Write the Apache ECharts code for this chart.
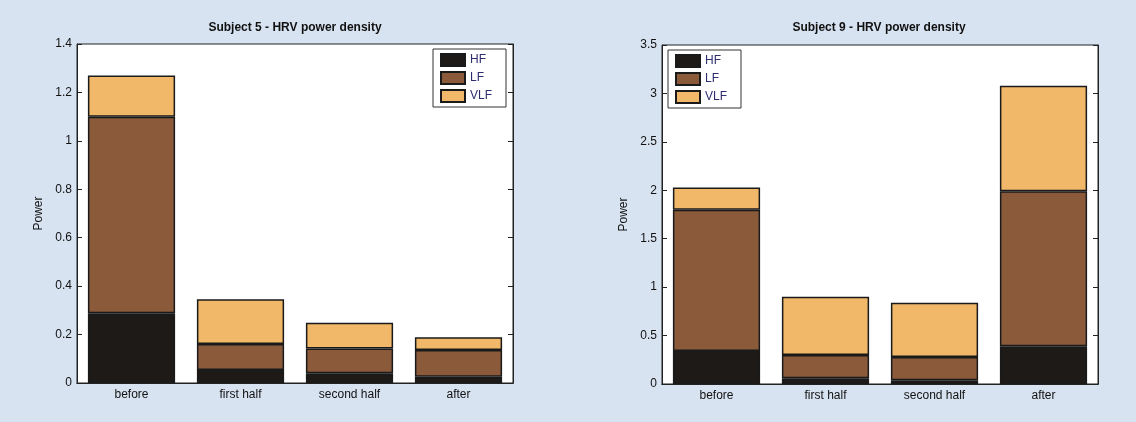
<!DOCTYPE html>
<html>
<head>
<meta charset="utf-8">
<script src="https://cdn.jsdelivr.net/npm/echarts@6/dist/echarts.min.js"></script>
<style>
  html, body { margin: 0; padding: 0; background: #d8e3f1; }
  #chart { width: 1136px; height: 422px; }
</style>
</head>
<body>
<div id="chart"></div>
<script>
const categories = ["before", "first half", "second half", "after"];
const bands = ["HF", "LF", "VLF"];

// Subject 5
const s5HF = [0.288, 0.054, 0.04, 0.026];
const s5LF = [0.812, 0.107, 0.102, 0.11];
const s5VLF = [0.17, 0.185, 0.107, 0.053];

// Subject 9
const s9HF = [0.34, 0.06, 0.04, 0.39];
const s9LF = [1.46, 0.24, 0.24, 1.6];
const s9VLF = [0.23, 0.6, 0.56, 1.09];

const bandColors = { HF: "#1d1a18", LF: "#8b5a3b", VLF: "#f0b868" };

const FONT = "Liberation Sans, Arial, sans-serif";
const TEXT = "#111";

const chart = echarts.init(document.getElementById("chart"));

const plotBox = (left, top) => ({
  left: left,
  top: top,
  width: 436,
  height: 339,
  show: true,
  backgroundColor: "#ffffff",
  borderColor: "#222",
  borderWidth: 1,
});

const bottomX = (grid) => ({
  type: "category",
  gridIndex: grid,
  data: categories,
  axisLine: { lineStyle: { color: "#222" } },
  axisTick: { inside: true, alignWithLabel: true, length: 5, lineStyle: { color: "#222" } },
  axisLabel: { color: TEXT, fontSize: 12, fontFamily: FONT, margin: 6 },
});

const topX = (grid) => ({
  type: "category",
  gridIndex: grid,
  position: "top",
  data: categories,
  axisLine: { lineStyle: { color: "#222" } },
  axisTick: { inside: true, alignWithLabel: true, length: 5, lineStyle: { color: "#222" } },
  axisLabel: { show: false },
});

const leftY = (grid, max, step) => ({
  type: "value",
  gridIndex: grid,
  min: 0,
  max: max,
  interval: step,
  name: "Power",
  nameLocation: "middle",
  nameGap: 32,
  nameTextStyle: { color: TEXT, fontSize: 12, fontFamily: FONT },
  splitLine: { show: false },
  axisLine: { show: true, lineStyle: { color: "#222" } },
  axisTick: { show: true, inside: true, length: 5, lineStyle: { color: "#222" } },
  axisLabel: { color: TEXT, fontSize: 12, fontFamily: FONT, margin: 5 },
});

const rightY = (grid, max, step) => ({
  type: "value",
  gridIndex: grid,
  position: "right",
  min: 0,
  max: max,
  interval: step,
  splitLine: { show: false },
  axisLine: { show: true, lineStyle: { color: "#222" } },
  axisTick: { show: true, inside: true, length: 5, lineStyle: { color: "#222" } },
  axisLabel: { show: false },
});

const barSeries = (name, values, xi, yi, stack) => ({
  name: name,
  type: "bar",
  stack: stack,
  xAxisIndex: xi,
  yAxisIndex: yi,
  data: values,
  barCategoryGap: "20%",
  itemStyle: { color: bandColors[name], borderColor: "#1a1a1a", borderWidth: 1.5 },
  emphasis: { disabled: true },
});

const legendBox = (left, top) => ({
  data: bands,
  orient: "vertical",
  left: left,
  top: top,
  icon: "rect",
  itemWidth: 24,
  itemHeight: 12,
  itemGap: 4,
  padding: [4, 14, 4, 7],
  backgroundColor: "#ffffff",
  borderColor: "#333",
  borderWidth: 1,
  textStyle: { color: "#2e2e6e", fontSize: 12, fontFamily: FONT },
});

const titleText = (text, centerX) => ({
  text: text,
  left: centerX,
  textAlign: "center",
  top: 22,
  padding: 0,
  textStyle: { color: TEXT, fontSize: 12, fontWeight: "bold", fontFamily: FONT },
});

chart.setOption({
  animation: false,
  title: [
    titleText("Subject 5 - HRV power density", 295),
    titleText("Subject 9 - HRV power density", 879),
  ],
  legend: [legendBox(433, 49), legendBox(668, 50)],
  grid: [plotBox(77, 44), plotBox(662, 45)],
  xAxis: [bottomX(0), topX(0), bottomX(1), topX(1)],
  yAxis: [leftY(0, 1.4, 0.2), rightY(0, 1.4, 0.2), leftY(1, 3.5, 0.5), rightY(1, 3.5, 0.5)],
  series: [
    barSeries("HF", s5HF, 0, 0, "s5"),
    barSeries("LF", s5LF, 0, 0, "s5"),
    barSeries("VLF", s5VLF, 0, 0, "s5"),
    barSeries("HF", s9HF, 2, 2, "s9"),
    barSeries("LF", s9LF, 2, 2, "s9"),
    barSeries("VLF", s9VLF, 2, 2, "s9"),
  ],
});
</script>
</body>
</html>
